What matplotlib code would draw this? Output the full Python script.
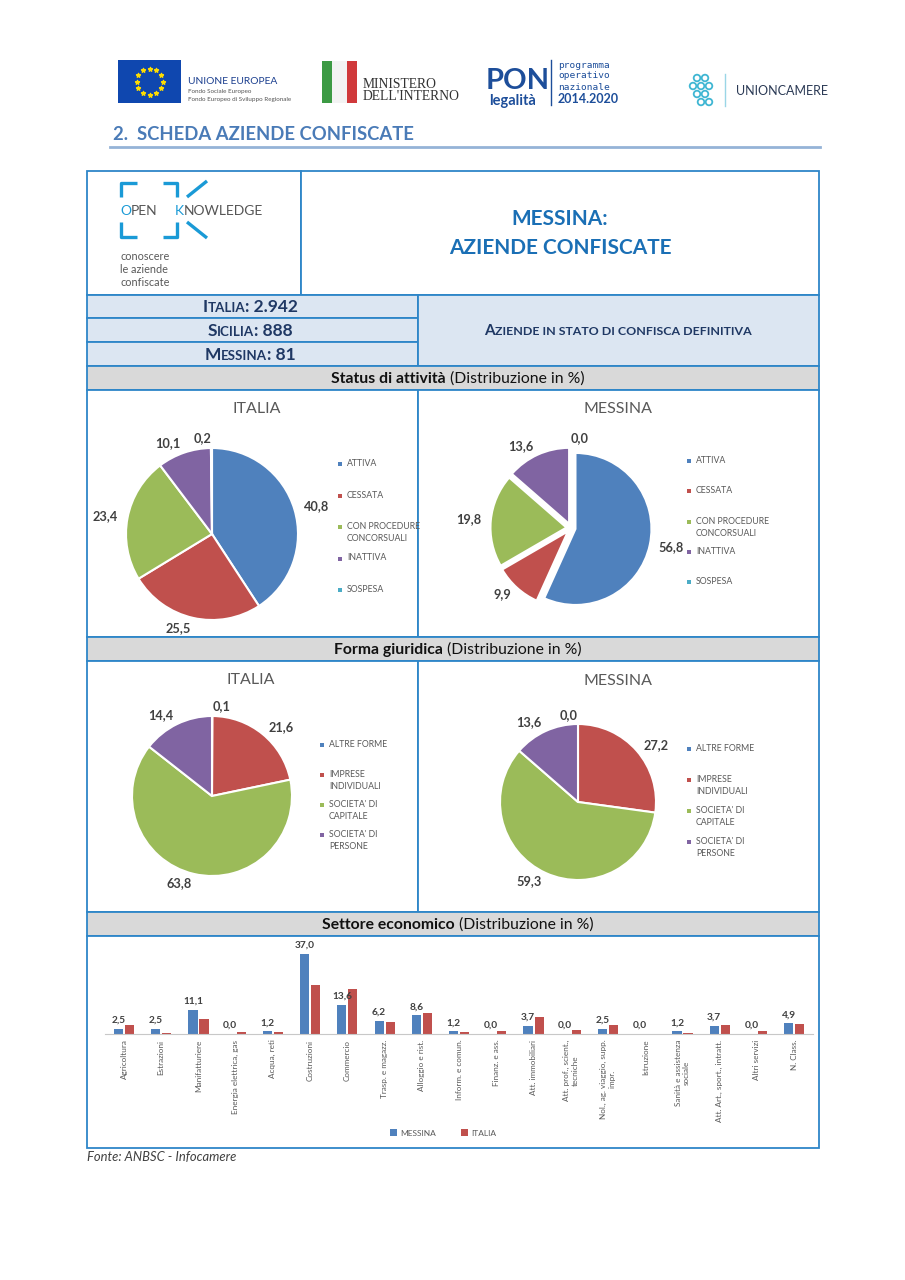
# -*- coding: utf-8 -*-
'''
    Scheda aziende confiscate - Messina
'''
import matplotlib
matplotlib.use('Agg')
import matplotlib.pyplot as plt
import numpy as np
from matplotlib.patches import Rectangle, Circle

plt.rcParams['font.family'] = ['Lato', 'DejaVu Sans']

# _____________________________________________________________________________
#                           Dati
# _____________________________________________________________________________

totali = [('I', 'TALIA', ': 2.942'), ('S', 'ICILIA', ': 888'), ('M', 'ESSINA', ': 81')]

status_labels = ['ATTIVA', 'CESSATA', 'CON PROCEDURE\nCONCORSUALI', 'INATTIVA', 'SOSPESA']
status_italia = [40.8, 25.5, 23.4, 10.1, 0.2]
status_messina = [56.8, 9.9, 19.8, 13.6, 0.0]

forma_labels = ['ALTRE FORME', 'IMPRESE\nINDIVIDUALI', "SOCIETA' DI\nCAPITALE", "SOCIETA' DI\nPERSONE"]
forma_italia = [0.1, 21.6, 63.8, 14.4]
forma_messina = [0.0, 27.2, 59.3, 13.6]

settori = ['Agricoltura', 'Estrazioni', 'Manifatturiere', 'Energia elettrica, gas',
           'Acqua, reti', 'Costruzioni', 'Commercio', 'Trasp. e magazz.',
           'Alloggio e rist.', 'Inform. e comun.', 'Finanz. e ass.',
           'Att. immobiliari', 'Att. prof., scient.,\ntecniche',
           'Nol., ag. viaggio, supp.\nimpr.', 'Istruzione',
           'Sanità e assistenza\nsociale', 'Att. Art., sport., intratt.',
           'Altri servizi', 'N. Class.']
settore_messina = [2.5, 2.5, 11.1, 0.0, 1.2, 37.0, 13.6, 6.2, 8.6, 1.2, 0.0,
                   3.7, 0.0, 2.5, 0.0, 1.2, 3.7, 0.0, 4.9]
settore_italia = [4.2, 0.3, 6.8, 1.0, 1.0, 22.7, 20.7, 5.4, 9.7, 0.8, 1.5,
                  7.7, 1.8, 4.0, 0.1, 0.3, 4.0, 1.5, 4.5]

# _____________________________________________________________________________
#                           Stile
# _____________________________________________________________________________
COL = ['#4f81bd', '#c0504d', '#9bbb59', '#8064a2', '#4bacc6']
BLU = '#2e86c8'
AZZ = '#dce6f2'
GRIGIO = '#d9d9d9'
TXT = '#595959'
W, H = 905, 1280


def fmt(v):
    return '{:.1f}'.format(v).replace('.', ',')


fig = plt.figure(figsize=(W / 100, H / 100), dpi=100)
bg = fig.add_axes([0, 0, 1, 1])
bg.set_xlim(0, W)
bg.set_ylim(H, 0)
bg.axis('off')
rend = fig.canvas.get_renderer()


def px_axes(x0, y0, x1, y1):
    return fig.add_axes([x0 / W, 1 - y1 / H, (x1 - x0) / W, (y1 - y0) / H])


def rich(x, y, parts, ha='center'):
    tt = [bg.text(0, y, s, va='baseline', **st) for s, st in parts]
    ww = [t.get_window_extent(rend).width for t in tt]
    x0 = x - sum(ww) / 2 if ha == 'center' else x
    for t, w in zip(tt, ww):
        t.set_x(x0)
        x0 += w


def cell(x0, y0, x1, y1, fc='white'):
    bg.add_patch(Rectangle((x0, y0), x1 - x0, y1 - y0, fc=fc, ec=BLU, lw=1.3))


# _____________________________________________________________________________
#                           Intestazione (loghi)
# _____________________________________________________________________________
bg.add_patch(Rectangle((118, 60), 63, 43, fc='#0f47af', ec='none'))
ang = np.linspace(0, 2 * np.pi, 13)[:-1]
bg.scatter(149.5 + 13 * np.cos(ang), 81.5 + 13 * np.sin(ang), marker='*',
           s=9, color='#ffdd00', zorder=3)
bg.text(188, 82, 'UNIONE EUROPEA', fontsize=7.4, color='#1b3f8f', va='center')
bg.text(188, 92, 'Fondo Sociale Europeo', fontsize=4.5, color='#555555', va='center')
bg.text(188, 99, 'Fondo Europeo di Sviluppo Regionale', fontsize=4.5,
        color='#555555', va='center')

bg.add_patch(Rectangle((322, 61), 10, 42, fc='#3c9a44', ec='none'))
bg.add_patch(Rectangle((332, 61), 15, 42, fc='#f3f3f3', ec='none'))
bg.add_patch(Rectangle((347, 61), 10, 42, fc='#d0393b', ec='none'))
bg.text(363, 84, 'MINISTERO', fontsize=9.8, family='Liberation Serif',
        color='#333333', va='center')
bg.text(363, 97, "DELL'INTERNO", fontsize=9.8, family='Liberation Serif',
        color='#333333', va='center')

PON = '#1d4e9a'
bg.text(486, 89, 'PON', fontsize=21, fontweight='bold', color=PON, va='baseline')
bg.text(489, 105, 'legalità', fontsize=10.5, fontweight='bold', color=PON, va='baseline')
bg.plot([551, 551], [60, 105], color=PON, lw=1)
for i, s in enumerate(['programma', 'operativo', 'nazionale']):
    bg.text(558, 65 + 11 * i, s, fontsize=6.8, family='DejaVu Sans Mono',
            color=PON, va='center')
bg.text(558, 99, '2014.2020', fontsize=9, fontweight='bold', color=PON, va='center')

for dx, dy in [(-8, -12), (0, -12), (-12, -4), (-4, -4), (4, -4),
               (-8, 4), (0, 4), (-4, 12), (4, 12)]:
    bg.add_patch(Circle((705 + dx, 90 + dy), 3.3, fc='none', ec='#3fb6d3', lw=1.3))
bg.plot([725, 725], [74, 106], color='#9ad6e6', lw=1)
bg.text(736, 91, 'UNIONCAMERE', fontsize=9, color='#2b3a55', va='center')

bg.text(113, 140, '2.  SCHEDA AZIENDE CONFISCATE', fontsize=13.3,
        fontweight='bold', color='#4a7bb7', va='baseline')
bg.plot([110, 820], [147, 147], color='#95b3d7', lw=2)

# _____________________________________________________________________________
#                           Tabella
# _____________________________________________________________________________
cell(87, 171, 301, 295)
cell(301, 171, 819, 295)
for y0, y1 in [(295, 318), (318, 342), (342, 366)]:
    cell(87, y0, 418, y1, AZZ)
cell(418, 295, 819, 366, AZZ)
cell(87, 366, 819, 390, GRIGIO)
cell(87, 390, 418, 637)
cell(418, 390, 819, 637)
cell(87, 637, 819, 661, GRIGIO)
cell(87, 661, 418, 912)
cell(418, 661, 819, 912)
cell(87, 912, 819, 936, GRIGIO)
cell(87, 936, 819, 1148)

# logo open knowledge
OK = '#1a9ad6'
for xs, ys in [([121, 121, 137], [197, 183, 183]), ([163, 177, 177], [183, 183, 197]),
               ([121, 121, 137], [222, 237, 237]), ([163, 177, 177], [237, 237, 222]),
               ([187, 207], [197, 181]), ([187, 207], [222, 238])]:
    bg.plot(xs, ys, color=OK, lw=2.4, solid_capstyle='butt')
rich(120, 215, [('O', dict(fontsize=10, color=OK)),
                ('PEN', dict(fontsize=10, color='#555555'))], ha='left')
rich(175, 215, [('K', dict(fontsize=10, color=OK)),
                ('NOWLEDGE', dict(fontsize=10, color='#555555'))], ha='left')
for i, s in enumerate(['conoscere', 'le aziende', 'confiscate']):
    bg.text(120, 256 + 13.5 * i, s, fontsize=7.8, color=TXT, va='center')

TIT = '#1a6fb5'
bg.text(560, 219, 'MESSINA:', fontsize=15, fontweight='bold', color=TIT,
        ha='center', va='center')
bg.text(560, 248, 'AZIENDE CONFISCATE', fontsize=15, fontweight='bold',
        color=TIT, ha='center', va='center')

NAVY = '#1f3864'
for (a, b, c), yb in zip(totali, [312, 336, 360]):
    st_big = dict(fontsize=12.5, fontweight='bold', color=NAVY)
    st_sml = dict(fontsize=9.6, fontweight='bold', color=NAVY)
    rich(250, yb, [(a, st_big), (b, st_sml), (c, st_big)])
rich(618, 335, [('A', dict(fontsize=11, fontweight='bold', color=NAVY)),
                ('ZIENDE IN STATO DI CONFISCA DEFINITIVA',
                 dict(fontsize=8.9, fontweight='bold', color=NAVY))])

for yb, tb in [(383, 'Status di attività'), (654, 'Forma giuridica'),
               (929, 'Settore economico')]:
    rich(458, yb, [(tb, dict(fontsize=11.3, fontweight='bold', color='#111111')),
                   (' (Distribuzione in %)', dict(fontsize=11.3, color='#111111'))])

# _____________________________________________________________________________
#                           Torte
# _____________________________________________________________________________


def torta(cx, cy, rp, valori, esplodi=0.0):
    lim = 1.45
    ax = px_axes(cx - rp * lim, cy - rp * lim, cx + rp * lim, cy + rp * lim)
    ax.pie(valori, colors=COL, startangle=90, counterclock=False,
           explode=[esplodi] * len(valori),
           labels=[fmt(v) for v in valori], labeldistance=1.12,
           wedgeprops=dict(edgecolor='white', linewidth=1.5),
           textprops=dict(fontsize=9.2, fontweight='bold', color='#404040'))
    ax.set_xlim(-lim, lim)
    ax.set_ylim(-lim, lim)
    ax.patch.set_alpha(0)
    return ax


def legenda(x, y0, step, etichette):
    for i, lab in enumerate(etichette):
        y = y0 + i * step
        bg.add_patch(Rectangle((x - 2, y - 2), 4, 4, fc=COL[i], ec='none'))
        bg.text(x + 7, y - 5, lab, fontsize=6.3, color=TXT, va='top',
                linespacing=1.45)


torta(212, 534, 86, status_italia)
torta(571, 528, 76, status_messina, esplodi=0.06)
torta(212, 796, 80, forma_italia)
torta(578, 802, 78, forma_messina)

for x, y, s in [(257, 409, 'ITALIA'), (618, 409, 'MESSINA'),
                (251, 680, 'ITALIA'), (618, 681, 'MESSINA')]:
    bg.text(x, y, s, fontsize=11.5, color=TXT, ha='center', va='center')

legenda(340, 464, 31.5, status_labels)
legenda(689, 461, 30.3, status_labels)
legenda(322, 745, 30, forma_labels)
legenda(689, 749, 31, forma_labels)

# _____________________________________________________________________________
#                           Barre settore economico
# _____________________________________________________________________________
ax = px_axes(105.4, 947.6, 812.8, 1034)
x = np.arange(len(settori))
b1 = ax.bar(x - 0.148, settore_messina, 0.245, color=COL[0], label='MESSINA')
b2 = ax.bar(x + 0.148, settore_italia, 0.245, color=COL[1], label='ITALIA')
ax.bar_label(b1, labels=[fmt(v) for v in settore_messina], padding=3,
             fontsize=7.3, fontweight='bold', color='#404040')
ax.set_xlim(-0.5, len(settori) - 0.5)
ax.set_ylim(0, 40)
ax.set_yticks([])
for s in ['top', 'right', 'left']:
    ax.spines[s].set_visible(False)
ax.spines['bottom'].set_color('#c8c8c8')
ax.spines['bottom'].set_linewidth(0.8)
ax.set_xticks(x)
ax.set_xticklabels(settori, rotation=90, fontsize=5.9, color=TXT,
                   ha='center', va='top', multialignment='center')
ax.tick_params(axis='x', length=0, pad=4)
ax.patch.set_alpha(0)
ax.legend(handles=[b1, b2], loc='center', bbox_to_anchor=(443 / W, 1 - 1133 / H),
          bbox_transform=fig.transFigure, ncol=2, frameon=False, fontsize=6,
          handlelength=0.8, handleheight=0.8, handletextpad=0.4,
          columnspacing=3, labelcolor=TXT)

bg.text(87, 1157, 'Fonte: ANBSC - Infocamere', fontsize=9.4, style='italic',
        color='#404040', va='center')

fig.savefig('out.png', dpi=100)
